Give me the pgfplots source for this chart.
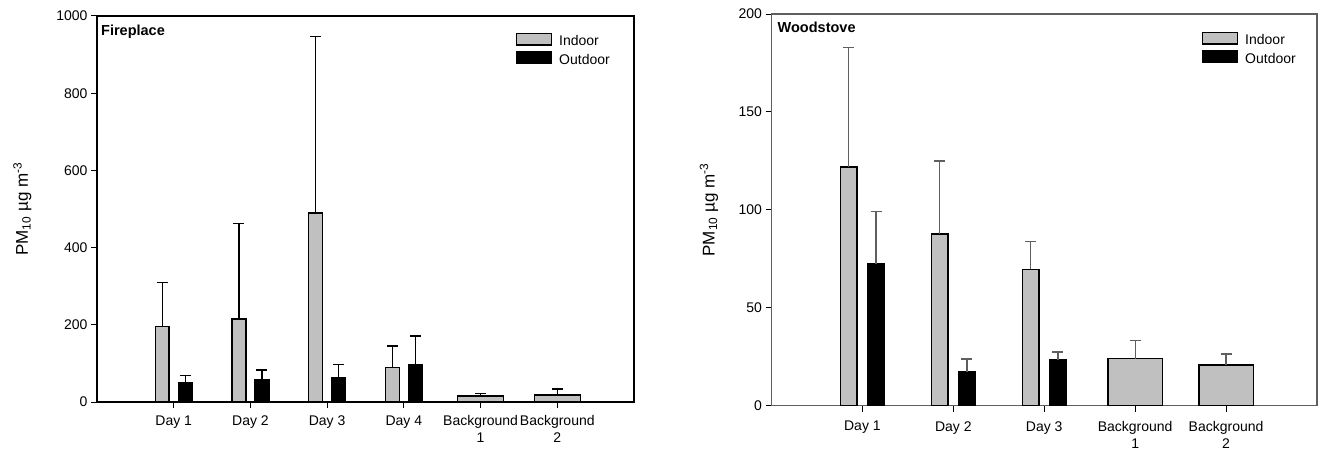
\documentclass[border=0pt]{standalone}
\usepackage{fontspec}
\setmainfont{Liberation Sans}
\usepackage{pgfplots}
\pgfplotsset{compat=1.18}

\definecolor{barGray}{RGB}{192,192,192}
\definecolor{frameGray}{RGB}{95,95,95}

\pgfplotsset{
  myaxis/.style={
    scale only axis,
    anchor=south west,
    xmin=0, ymin=0,
    tick align=outside,
    tick pos=left,
    major tick length=6pt,
    ybar,
    bar width=0.18,
    /pgf/number format/assume math mode=true,
    /pgf/number format/1000 sep={},
    yticklabel style={font=\fontsize{14}{16}\selectfont},
    xticklabel style={align=center, font=\fontsize{14}{17}\selectfont},
    axis line style={line width=1.2pt},
    every tick/.style={line width=1pt},
    legend style={draw=none, fill=none, at={(rel axis cs:1,1)}, anchor=north east,
      inner sep=0pt, row sep=0pt, column sep=5pt,
      font=\fontsize{14}{17}\selectfont,
      nodes={inner sep=2pt, text height=10.5pt, text depth=3.5pt}},
    legend cell align=left,
    ylabel={PM\textsubscript{10} µg m\textsuperscript{-3}},
  },
  barstyle/.style={draw=black, line width=1.5pt,
    legend image code/.code={\draw[##1] (0pt,-2.5pt) rectangle (35pt,9pt);}},
  errstyle/.style={error bars/y dir=plus, error bars/y explicit,
    error bars/error bar style={line width=1.3pt, #1},
    error bars/error mark options={rotate=90, line width=1.3pt, mark size=5.5pt, #1}},
}

\begin{document}
\begin{tikzpicture}
\path[use as bounding box] (0,0) rectangle (1325pt,451pt);

% ---------- Fireplace ----------
\begin{axis}[myaxis,
  at={(97pt,49pt)}, width=537pt, height=386pt,
  xmax=7, ymax=1000,
  ytick={0,200,400,600,800,1000},
  xtick={1,2,3,4,5,6},
  xticklabels={Day 1, Day 2, Day 3, Day 4, {Background\\1}, {Background\\2}},
  xticklabel style={yshift=-4pt},
  ylabel style={at={([xshift=-69pt]rel axis cs:0,0.5)}, anchor=base, font=\fontsize{17}{20}\selectfont},
  legend style={xshift=-22pt, yshift=-16.5pt},
]
\addplot[barstyle, fill=barGray, bar shift=-0.15, errstyle=black]
  coordinates {(1,195) +- (0,114) (2,215) +- (0,247) (3,490) +- (0,456) (4,89) +- (0,56)};
\addlegendentry{Indoor}
\addplot[barstyle, fill=black, bar shift=0.15, errstyle=black]
  coordinates {(1,51) +- (0,17) (2,57) +- (0,26) (3,64) +- (0,34) (4,96) +- (0,75)};
\addlegendentry{Outdoor}
\addplot[barstyle, fill=barGray, bar shift=0, bar width=0.6, errstyle=black, forget plot]
  coordinates {(5,15) +- (0,7) (6,18) +- (0,16)};
\node[anchor=north west, inner sep=0pt, font=\bfseries\fontsize{14.5}{17}\selectfont]
  at ([xshift=4pt, yshift=-9pt]rel axis cs:0,1) {Fireplace};
\end{axis}

% ---------- Woodstove ----------
\begin{axis}[myaxis,
  at={(771.5pt,45.3pt)}, width=545.5pt, height=391.7pt,
  xmax=6, ymax=200,
  ytick={0,50,100,150,200},
  xtick={1,2,3,4,5},
  xticklabels={Day 1, Day 2, Day 3, {Background\\1}, {Background\\2}},
  xticklabel style={yshift=-6pt},
  axis line style={frameGray},
  ylabel style={at={([xshift=-57pt]rel axis cs:0,0.5)}, anchor=base, font=\fontsize{17}{20}\selectfont},
  legend style={xshift=-19pt, yshift=-17.5pt},
]
\addplot[barstyle, fill=barGray, bar shift=-0.15, errstyle=frameGray]
  coordinates {(1,122) +- (0,61) (2,87.6) +- (0,37.4) (3,69.6) +- (0,14.1)};
\addlegendentry{Indoor}
\addplot[barstyle, fill=black, bar shift=0.15, errstyle=frameGray]
  coordinates {(1,72.3) +- (0,27) (2,17.3) +- (0,6.5) (3,23.3) +- (0,4.1)};
\addlegendentry{Outdoor}
\addplot[barstyle, fill=barGray, bar shift=0, bar width=0.6, errstyle=frameGray, forget plot]
  coordinates {(4,24) +- (0,9.2) (5,20.7) +- (0,5.7)};
\node[anchor=north west, inner sep=0pt, font=\bfseries\fontsize{14.5}{17}\selectfont]
  at ([xshift=6pt, yshift=-8pt]rel axis cs:0,1) {Woodstove};
\end{axis}
\end{tikzpicture}
\end{document}
